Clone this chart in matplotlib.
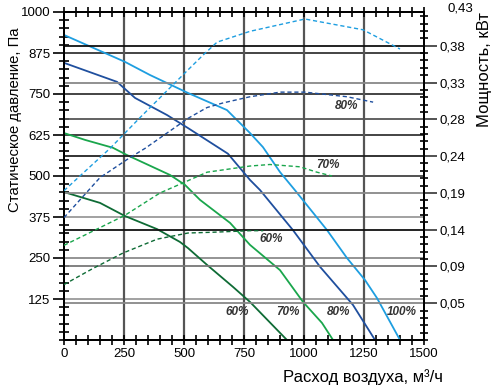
import numpy as np
import matplotlib
matplotlib.use("Agg")
import matplotlib.pyplot as plt
from matplotlib.ticker import MultipleLocator, AutoMinorLocator
import matplotlib.transforms as mtransforms

plt.rcParams['font.family'] = ['Liberation Sans', 'DejaVu Sans']

# pressure curves (m3/h, Pa)
q100 = [0, 254, 358, 517, 679, 775, 829, 900, 962, 1096, 1179, 1254, 1304, 1400]
p100 = [930, 848, 808, 753, 701, 631, 588, 512, 457, 335, 250, 183, 128, 0]
q80 = [0, 221, 296, 429, 517, 683, 775, 817, 954, 1067, 1204, 1296]
p80 = [845, 787, 738, 686, 646, 568, 488, 457, 335, 223, 107, 0]
q70 = [0, 88, 204, 262, 442, 504, 567, 692, 775, 900, 996, 1075, 1121]
p70 = [631, 610, 586, 564, 503, 473, 427, 357, 290, 213, 116, 52, 0]
q60 = [0, 150, 254, 388, 483, 517, 596, 704, 775, 929]
p60 = [451, 418, 378, 338, 299, 280, 229, 162, 116, 0]

# power curves (m3/h, kW)
wq100 = [0, 192, 317, 517, 579, 638, 775, 1004, 1246, 1400]
w100 = [0.194, 0.249, 0.289, 0.351, 0.370, 0.387, 0.401, 0.417, 0.403, 0.378]
wq80 = [0, 150, 275, 338, 517, 596, 663, 775, 900, 1004, 1179, 1288]
w80 = [0.159, 0.211, 0.237, 0.249, 0.288, 0.302, 0.308, 0.316, 0.322, 0.322, 0.316, 0.309]
wq70 = [0, 150, 254, 400, 517, 596, 775, 858, 983, 1054, 1117]
w70 = [0.123, 0.146, 0.162, 0.191, 0.207, 0.218, 0.226, 0.228, 0.225, 0.218, 0.213]
wq60 = [0, 121, 246, 388, 517, 621, 775, 830]
w60 = [0.072, 0.093, 0.113, 0.131, 0.139, 0.140, 0.142, 0.142]

p_ticks = [125, 250, 375, 500, 625, 750, 875, 1000]
w_step = 0.43 / 9
w_labels = ['0,05', '0,09', '0,14', '0,19', '0,24', '0,28', '0,33', '0,38', '0,43']
x_ticks = [0, 250, 500, 750, 1000, 1250, 1500]

c100 = '#1e9ee0'
c80 = '#1f4f9e'
c70 = '#1aa64c'
c60 = '#0e6b35'

fig = plt.figure(figsize=(4.96, 3.89), dpi=100)
ax = fig.add_axes([64/496, 1-340/389, 360/496, 328/389])
ax2 = ax.twinx()

ax.set_xlim(0, 1500)
ax.set_ylim(0, 1000)
ax2.set_ylim(0, 0.4261)

# grid lines
pcols = ['#888888', '#777777', '#888888', '#222222', '#111111', '#111111', '#111111']
for v, c in zip(p_ticks[:-1], pcols):
    ax.axhline(v, color=c, lw=1.1, zorder=1)
wcols = ['#888888', '#777777', '#111111', '#888888', '#222222', '#555555', '#888888', '#111111']
for k, c in enumerate(wcols):
    ax2.axhline((k + 1) * w_step, color=c, lw=1.3, zorder=1)
for v in x_ticks[1:-1]:
    ax.axvline(v, color='#555555', lw=1.6, zorder=1)

lw = 1.3
ax.plot(q100, p100, color=c100, lw=lw, zorder=3)
ax.plot(q80, p80, color=c80, lw=lw, zorder=3)
ax.plot(q70, p70, color=c70, lw=lw, zorder=3)
ax.plot(q60, p60, color=c60, lw=lw, zorder=3)

ds = (3, 2)
ax2.plot(wq100, w100, color=c100, lw=1.0, dashes=ds, zorder=3)
ax2.plot(wq80, w80, color=c80, lw=1.0, dashes=ds, zorder=3)
ax2.plot(wq70, w70, color=c70, lw=1.0, dashes=ds, zorder=3)
ax2.plot(wq60, w60, color=c60, lw=1.0, dashes=ds, zorder=3)

# percent labels
lab_kw = dict(fontsize=8.5, fontweight='bold', fontstyle='italic', color='#333333',
              ha='center', va='center', zorder=4)
for xq, txt in [(721, '60%'), (933, '70%'), (1146, '80%'), (1408, '100%')]:
    ax.text(xq, 86, txt, **lab_kw)
ax.text(862, 309, '60%', **lab_kw)
ax.text(1100, 535, '70%', **lab_kw)
ax.text(1179, 712, '80%', **lab_kw)

# ticks
ax.set_xticks(x_ticks)
ax.xaxis.set_minor_locator(MultipleLocator(50))
ax.set_yticks(p_ticks)
ax.yaxis.set_minor_locator(MultipleLocator(25))
ax.tick_params(axis='x', which='both', direction='inout', length=7, width=1.2,
               top=True, labelsize=9.5, pad=2)
ax.tick_params(axis='y', which='major', direction='out', length=8, width=1.2,
               labelsize=9.5, pad=2)
ax.tick_params(axis='y', which='minor', direction='inout', length=7, width=1.2)

ax2.set_yticks([(k + 1) * w_step for k in range(8)])
ax2.set_yticklabels(w_labels[:8])
ax2.yaxis.set_minor_locator(AutoMinorLocator(5))
ax2.tick_params(axis='y', which='major', direction='out', length=9, width=1.2,
                labelsize=9.5, pad=2, colors='#333333', labelcolor='black')
ax2.tick_params(axis='y', which='minor', direction='inout', length=6, width=1.2)
trans = mtransforms.blended_transform_factory(ax2.transAxes, ax2.transData)
ax2.text(1.0 + 23/360, 9 * w_step, w_labels[8], transform=trans, fontsize=9.5,
         ha='left', va='center', clip_on=False)

for s in ax.spines.values():
    s.set_linewidth(1.4)
for s in ax2.spines.values():
    s.set_linewidth(1.4)

fig.text(15/496, 1-120/389, 'Статическое давление, Па', rotation=90,
         ha='center', va='center', fontsize=10.7)
fig.text(484/496, 1-70/389, 'Мощность, кВт', rotation=90,
         ha='center', va='center', fontsize=12)
fig.text(363/496, 1-377/389, 'Расход воздуха, м³/ч', ha='center', va='center',
         fontsize=12)

fig.savefig('out.png', dpi=100)
